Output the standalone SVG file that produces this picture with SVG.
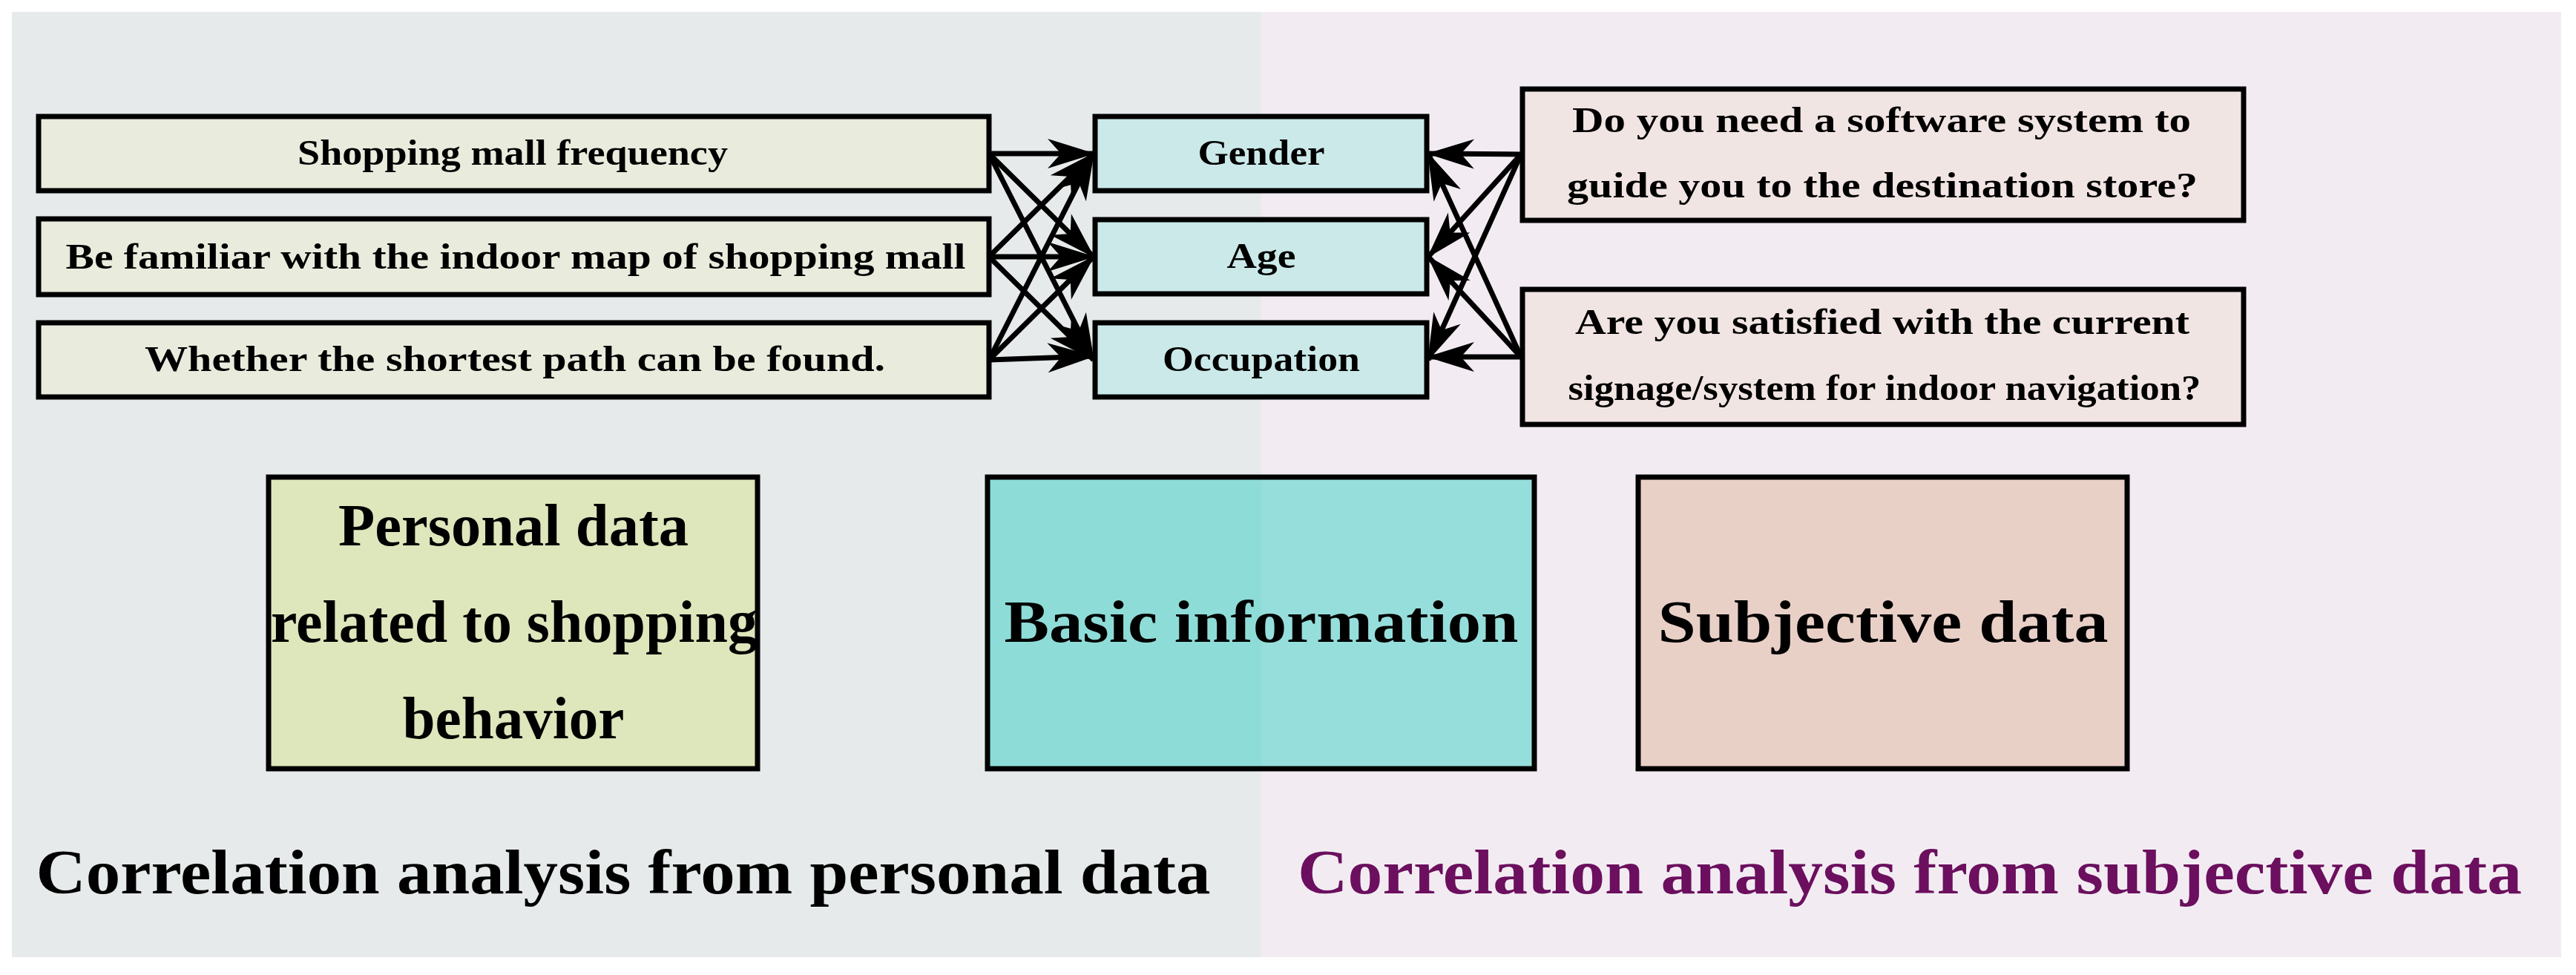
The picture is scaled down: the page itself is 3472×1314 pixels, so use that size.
<svg xmlns="http://www.w3.org/2000/svg" width="3472" height="1314" viewBox="0 0 3472 1314">
<style>
.b{stroke:#000;stroke-width:7}
.t{font-family:"Liberation Serif",serif;font-weight:bold;fill:#000;text-anchor:middle}
.s{font-size:48px}
.L{font-size:80px}
.c line{stroke:#000;stroke-width:7;marker-end:url(#ah)}
</style>
<defs>
<marker id="ah" markerUnits="userSpaceOnUse" viewBox="-64 -22 68 44" refX="0" refY="0" markerWidth="68" markerHeight="44" orient="auto">
<path d="M2,0 L-62,-20 L-44,0 L-62,20 Z" fill="#000"/>
</marker>
</defs>
<rect width="3472" height="1314" fill="#fff"/>
<rect x="16" y="16" width="1684" height="1274" fill="#e6eaea"/>
<rect x="1700" y="16" width="1752" height="1274" fill="#f2ecf2"/>
<g id="p1"><rect class="b" x="52" y="157" width="1281" height="100" fill="#e9ecdd"/><text class="t s" x="691" y="222" textLength="580" lengthAdjust="spacingAndGlyphs">Shopping mall frequency</text></g>
<g id="p2"><rect class="b" x="52" y="295" width="1281" height="102" fill="#e9ecdd"/><text class="t s" x="695" y="362" textLength="1213" lengthAdjust="spacingAndGlyphs">Be familiar with the indoor map of shopping mall</text></g>
<g id="p3"><rect class="b" x="52" y="435" width="1281" height="100" fill="#e9ecdd"/><text class="t s" x="694" y="500" textLength="998" lengthAdjust="spacingAndGlyphs">Whether the shortest path can be found.</text></g>
<g id="gender"><rect class="b" x="1476" y="157" width="447" height="100" fill="#cbe9e9"/><text class="t s" x="1700" y="222" textLength="171" lengthAdjust="spacingAndGlyphs">Gender</text></g>
<g id="age"><rect class="b" x="1476" y="296" width="447" height="100" fill="#cbe9e9"/><text class="t s" x="1700" y="361" textLength="93" lengthAdjust="spacingAndGlyphs">Age</text></g>
<g id="occ"><rect class="b" x="1476" y="435" width="447" height="100" fill="#cbe9e9"/><text class="t s" x="1700" y="500" textLength="266" lengthAdjust="spacingAndGlyphs">Occupation</text></g>
<g id="s1"><rect class="b" x="2052" y="120" width="972" height="177" fill="#f1e5e3"/><text class="t s" x="2536" y="178" textLength="834" lengthAdjust="spacingAndGlyphs">Do you need a software system to</text><text class="t s" x="2537" y="266" textLength="850" lengthAdjust="spacingAndGlyphs">guide you to the destination store?</text></g>
<g id="s2"><rect class="b" x="2052" y="390" width="972" height="182" fill="#f1e5e3"/><text class="t s" x="2537" y="450" textLength="828" lengthAdjust="spacingAndGlyphs">Are you satisfied with the current</text><text class="t s" x="2540" y="539" textLength="853" lengthAdjust="spacingAndGlyphs">signage/system for indoor navigation?</text></g>
<g id="big1"><rect class="b" x="362" y="643" width="659" height="393" fill="#dee6bc"/><text class="t L" x="692" y="735" textLength="472" lengthAdjust="spacingAndGlyphs">Personal data</text><text class="t L" x="693" y="865" textLength="656" lengthAdjust="spacingAndGlyphs">related to shopping</text><text class="t L" x="692" y="995" textLength="299" lengthAdjust="spacingAndGlyphs">behavior</text></g>
<g id="big2"><rect class="b" x="1331" y="643" width="737" height="393" fill="#8edcd8"/><rect x="1700" y="647" width="364" height="385" fill="#96dedb"/><text class="t L" x="1700" y="865" textLength="693" lengthAdjust="spacingAndGlyphs">Basic information</text></g>
<g id="big3"><rect class="b" x="2208" y="643" width="659" height="393" fill="#e9d0c7"/><text class="t L" x="2538" y="865" textLength="607" lengthAdjust="spacingAndGlyphs">Subjective data</text></g>
<g id="conn" class="c">
<line x1="1333" y1="207" x2="1474" y2="207"/>
<line x1="1333" y1="207" x2="1474" y2="346"/>
<line x1="1333" y1="207" x2="1474" y2="485"/>
<line x1="1333" y1="346" x2="1474" y2="207"/>
<line x1="1333" y1="346" x2="1474" y2="346"/>
<line x1="1333" y1="346" x2="1474" y2="485"/>
<line x1="1333" y1="485" x2="1474" y2="207"/>
<line x1="1333" y1="485" x2="1474" y2="346"/>
<line x1="1333" y1="485" x2="1474" y2="480"/>
<line x1="2050" y1="208" x2="1925" y2="207"/>
<line x1="2050" y1="208" x2="1925" y2="346"/>
<line x1="2050" y1="208" x2="1925" y2="485"/>
<line x1="2050" y1="481" x2="1925" y2="207"/>
<line x1="2050" y1="481" x2="1925" y2="346"/>
<line x1="2050" y1="481" x2="1925" y2="481"/>
</g>
<text class="t" x="840" y="1204" font-size="84" textLength="1583" lengthAdjust="spacingAndGlyphs">Correlation analysis from personal data</text>
<text class="t" x="2574" y="1204" font-size="84" textLength="1650" lengthAdjust="spacingAndGlyphs" style="fill:#6b0f5e">Correlation analysis from subjective data</text>
</svg>
